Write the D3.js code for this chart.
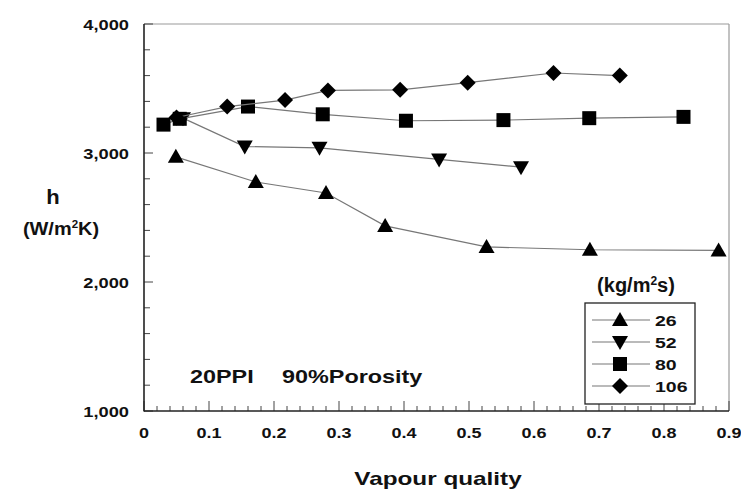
<!DOCTYPE html>
<meta charset="utf-8">
<style>
  body { margin: 0; background: #fff; }
  text { font-family: Arial, "Liberation Sans", sans-serif; font-weight: bold; fill: #111; }
</style>
<body>
<script src="https://cdn.jsdelivr.net/npm/d3@7"></script>
<script>
  // mass flux series (kg/m2s)
  var seriesNames = ["26", "52", "80", "106"];
  var symbols = ["up", "down", "square", "diamond"];

  var x26 = [0.049, 0.172, 0.28, 0.371, 0.527, 0.686, 0.884];
  var h26 = [2970, 2775, 2690, 2435, 2272, 2250, 2245];

  var x52 = [0.06, 0.155, 0.27, 0.454, 0.58];
  var h52 = [3270, 3050, 3040, 2950, 2890];

  var x80 = [0.03, 0.055, 0.16, 0.275, 0.403, 0.553, 0.685, 0.83];
  var h80 = [3220, 3265, 3360, 3300, 3250, 3255, 3270, 3280];

  var x106 = [0.05, 0.128, 0.217, 0.283, 0.394, 0.498, 0.63, 0.732];
  var h106 = [3275, 3360, 3410, 3485, 3490, 3545, 3620, 3600];

  var yTickLabels = [1000, 2000, 3000, 4000];
  var xTickLabels = [0, 0.1, 0.2, 0.3, 0.4, 0.5, 0.6, 0.7, 0.8, 0.9];

  var width = 741, height = 493;
  var x = d3.scaleLinear().domain([0, 0.9]).range([144, 729]);
  var y = d3.scaleLinear().domain([1000, 4000]).range([411, 24]);

  var svg = d3.select("body").append("svg")
    .attr("width", width)
    .attr("height", height);

  // the source picture is stretched sideways, so text gets a horizontal scale
  function label(parent, px, py, size, sx, anchor) {
    return parent.append("text")
      .attr("transform", "translate(" + px + "," + py + ") scale(" + sx + ",1)")
      .attr("text-anchor", anchor)
      .style("font-size", size + "px");
  }

  // frame: top/right light, left/bottom dark
  svg.append("line").attr("x1", x(0)).attr("x2", x(0.9)).attr("y1", y(4000)).attr("y2", y(4000))
    .attr("stroke", "#999").attr("stroke-width", 1.2);
  svg.append("line").attr("x1", x(0.9)).attr("x2", x(0.9)).attr("y1", y(4000)).attr("y2", y(1000))
    .attr("stroke", "#999").attr("stroke-width", 1.2);

  // y ticks (inside)
  var yMinor = d3.range(1000, 4001, 200);
  svg.selectAll(".yt").data(yMinor).join("line")
    .attr("x1", x(0)).attr("x2", function(d) { return x(0) + (d % 1000 == 0 ? 9 : 6); })
    .attr("y1", function(d) { return y(d); }).attr("y2", function(d) { return y(d); })
    .attr("stroke", "#444").attr("stroke-width", 1);

  // x ticks (inside, upward)
  var xMinor = d3.range(0, 46).map(function(i) { return i * 0.02; });
  svg.selectAll(".xt").data(xMinor).join("line")
    .attr("x1", function(d) { return x(d); }).attr("x2", function(d) { return x(d); })
    .attr("y1", y(1000)).attr("y2", function(d, i) { return y(1000) - (i % 5 == 0 ? 10 : 5); })
    .attr("stroke", "#444").attr("stroke-width", 1);

  svg.append("line").attr("x1", x(0)).attr("x2", x(0)).attr("y1", y(4000)).attr("y2", y(1000) + 0.5)
    .attr("stroke", "#222").attr("stroke-width", 1.6);
  svg.append("line").attr("x1", x(0)).attr("x2", x(0.9)).attr("y1", y(1000)).attr("y2", y(1000))
    .attr("stroke", "#222").attr("stroke-width", 1.6);

  var fmt = d3.format(",");
  yTickLabels.forEach(function(d) {
    label(svg, 129, y(d) + 5.5, 15, 1.22, "end").text(fmt(d));
  });
  xTickLabels.forEach(function(d) {
    label(svg, x(d), 438, 15, 1.2, "middle").text(d);
  });

  label(svg, 438, 485, 18, 1.35, "middle").text("Vapour quality");

  label(svg, 53, 204, 20, 1.1, "middle").text("h");
  var yl = label(svg, 61, 235, 19, 1.05, "middle");
  yl.append("tspan").text("(W/m");
  yl.append("tspan").attr("dy", -7).style("font-size", "11px").text("2");
  yl.append("tspan").attr("dy", 7).text("K)");

  label(svg, 190, 383, 18, 1.3, "start").text("20PPI");
  label(svg, 282, 383, 18, 1.3, "start").text("90%Porosity");

  // symbols
  function symbolPath(kind) {
    if (kind == "up") return "M0,-8L8,6L-8,6Z";
    if (kind == "down") return "M0,8L8,-6L-8,-6Z";
    if (kind == "square") return "M-7,-7H7V7H-7Z";
    return "M0,-8L8,0L0,8L-8,0Z";
  }

  var series = [
    { xs: x26, hs: h26 },
    { xs: x52, hs: h52 },
    { xs: x80, hs: h80 },
    { xs: x106, hs: h106 }
  ];

  var line = d3.line()
    .x(function(d) { return x(d[0]); })
    .y(function(d) { return y(d[1]); });

  series.forEach(function(s, i) {
    var pts = d3.zip(s.xs, s.hs);
    svg.append("path").datum(pts).attr("d", line)
      .attr("fill", "none").attr("stroke", "#777").attr("stroke-width", 1.2);
    svg.selectAll(".m" + i).data(pts).join("path")
      .attr("transform", function(d) { return "translate(" + x(d[0]) + "," + y(d[1]) + ")"; })
      .attr("d", symbolPath(symbols[i]))
      .attr("fill", "#000");
  });

  // legend
  var lg = svg.append("g");
  lg.append("rect").attr("x", 585).attr("y", 303).attr("width", 110).attr("height", 101)
    .attr("fill", "#fff").attr("stroke", "#222").attr("stroke-width", 1.3);
  var lt = label(svg, 636, 292, 20, 1.0, "middle");
  lt.append("tspan").text("(kg/m");
  lt.append("tspan").attr("dy", -7).style("font-size", "12px").text("2");
  lt.append("tspan").attr("dy", 7).text("s)");

  seriesNames.forEach(function(name, i) {
    var yy = 320 + i * 22;
    lg.append("line").attr("x1", 592).attr("x2", 650).attr("y1", yy).attr("y2", yy)
      .attr("stroke", "#777").attr("stroke-width", 1.2);
    lg.append("path").attr("transform", "translate(620," + yy + ")")
      .attr("d", symbolPath(symbols[i])).attr("fill", "#000");
    label(lg, 655, yy + 5.5, 15, 1.3, "start").text(name);
  });
</script>
</body>
